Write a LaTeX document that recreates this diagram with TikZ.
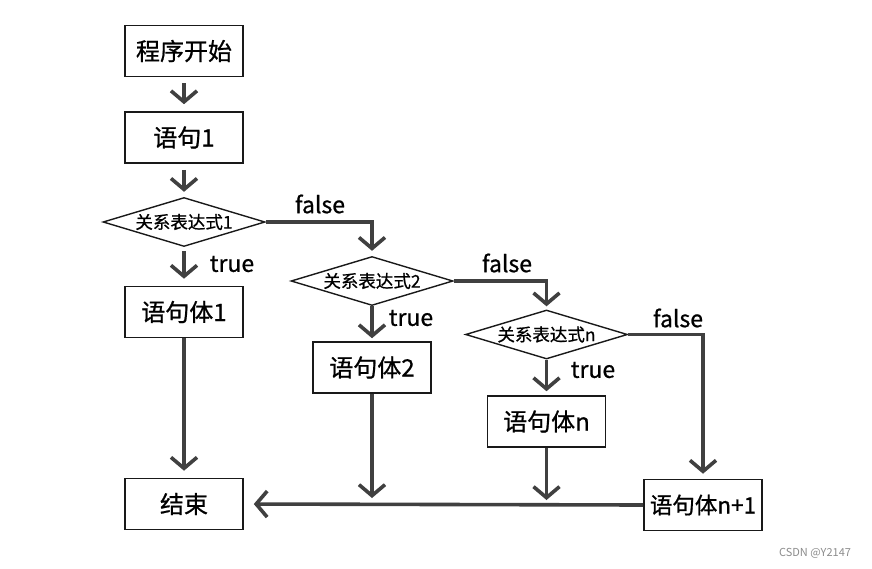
\documentclass[tikz,border=0pt]{standalone}
\usepackage{fontspec}
\setmainfont{Noto Sans CJK SC}[FakeBold=0.8]
\newfontfamily\wmfont{Noto Sans CJK SC}
\usetikzlibrary{arrows.meta,shapes.geometric}
\definecolor{linegray}{HTML}{404040}
\begin{document}
\begin{tikzpicture}[x=1pt,y=-1pt,
  box/.style={draw=black!90,line width=1.6pt,minimum width=118pt,minimum height=51pt,inner sep=0pt,font=\fontsize{24}{26}\selectfont},
  cond/.style={draw=black!90,line width=1.4pt,shape=diamond,aspect=3.3,minimum width=162pt,minimum height=49pt,inner sep=-2pt,font=\fontsize{17.5}{19}\selectfont},
  arr/.style={draw=linegray,line width=3.6pt,-{Straight Barb[length=11pt,width=26pt]}},
  lbl/.style={font=\fontsize{23}{25}\selectfont,inner sep=0pt}]
\fill[white] (0,0) rectangle (872,568);
\useasboundingbox (0,0) rectangle (872,568);

\node[box] (start) at (184,51) {程序开始};
\node[box] (s1) at (184,137.5) {语句1};
\node[cond] (c1) at (184,222) {关系表达式1};
\node[box] (b1) at (184,312) {语句体1};
\node[box] (end) at (184,504) {结束};
\node[cond] (c2) at (372,281) {关系表达式2};
\node[box] (b2) at (372,367.5) {语句体2};
\node[cond] (cn) at (546.5,334.5) {关系表达式n};
\node[box] (bn) at (546.5,421.5) {语句体n};
\node[box,font=\fontsize{22.5}{24}\selectfont] (bn1) at (703,505) {语句体n+1};

\coordinate (m2) at (372,498);
\coordinate (mn) at (546.5,500);

\draw[arr,shorten <=6pt,shorten >=7pt] (start) -- (s1);
\draw[arr,shorten <=6pt,shorten >=5pt] (s1) -- (c1);
\draw[arr,shorten <=4pt,shorten >=7pt] (c1) -- (b1);
\draw[arr,shorten >=7pt] (b1) -- (end);
\draw[arr,shorten >=5pt] (c1.east) -| (c2.north);
\draw[arr,shorten >=3pt] (c2) -- (b2);
\draw[arr,shorten >=3pt] (c2.east) -| (cn.north);
\draw[arr,shorten >=4pt] (cn) -- (bn);
\draw[arr,shorten >=5pt] (cn.east) -| (bn1.north);
\draw[arr] (b2.south) -- (m2);
\draw[arr] (bn.south) -- (mn);
\draw[arr,shorten >=10pt] (bn1.west) -- (end.east);

\node[lbl] (f1) at (320,204) {false};
\node[lbl] (t1) at (232,264) {true};
\node[lbl] (f2) at (507,263) {false};
\node[lbl] (t2) at (411,318) {true};
\node[lbl] (fn) at (678,318) {false};
\node[lbl] (tn) at (593,370) {true};
\node[text=black!45,font=\wmfont\fontsize{11}{12}\selectfont,inner sep=0pt] (wm) at (815,553) {CSDN @Y2147};
\end{tikzpicture}
\end{document}
